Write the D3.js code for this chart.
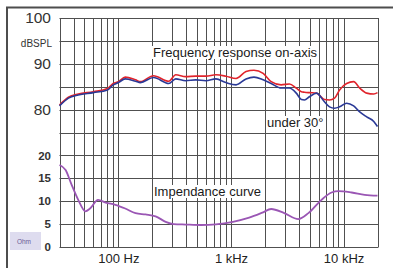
<!DOCTYPE html>
<html>
<head>
<meta charset="utf-8">
<script src="https://cdn.jsdelivr.net/npm/d3@7"></script>
<style>
  body { margin: 0; background: #fff; }
  svg { display: block; font-family: "Liberation Sans", Arial, sans-serif; }
</style>
</head>
<body>
<svg width="393" height="268"></svg>
<script>
// frequencies (Hz) and levels
var spl_freq = [30, 36, 44, 60, 80, 90, 100, 115, 142, 157, 205, 280, 323, 396, 487, 598, 735, 902, 1109, 1360, 1600, 1930, 2275, 2790, 3300, 3800, 4220, 4490, 4970, 5740, 6760, 7500, 8320, 9210, 10640, 12280, 13900, 16040, 18530, 20000];
var on_axis   = [81.0, 82.7, 83.4, 83.9, 84.6, 85.7, 86.1, 87.1, 86.5, 86.1, 87.4, 86.2, 87.6, 87.2, 87.3, 87.3, 87.6, 87.3, 86.8, 88.3, 88.6, 87.9, 86.1, 85.4, 85.6, 84.7, 83.9, 83.8, 83.7, 83.6, 82.2, 82.1, 82.5, 84.3, 85.7, 86.1, 84.7, 83.6, 83.4, 83.7];
var under_30  = [80.8, 82.5, 83.2, 83.7, 84.3, 85.4, 85.9, 86.7, 86.2, 85.9, 87.0, 85.7, 86.7, 86.3, 86.5, 86.3, 86.7, 85.9, 85.4, 86.7, 87.1, 86.5, 85.7, 84.7, 84.7, 83.6, 82.2, 82.1, 82.8, 83.6, 81.7, 80.6, 80.3, 80.6, 81.4, 80.8, 79.5, 78.4, 77.4, 76.3];

var imp_freq = [30, 34, 38, 44, 51, 56, 66, 77, 94, 115, 142, 174, 214, 263, 310, 396, 540, 735, 1040, 1450, 1900, 2275, 2970, 3960, 4870, 6360, 7820, 9020, 11790, 15400, 20000];
var impedance = [17.9, 16.8, 13.9, 10.3, 7.8, 8.4, 10.3, 9.7, 9.2, 8.4, 7.4, 7.1, 6.7, 5.5, 5.0, 4.9, 4.8, 4.95, 5.5, 6.4, 7.5, 8.3, 7.4, 6.1, 7.4, 10.3, 11.9, 12.2, 11.9, 11.4, 11.2];

var db_ticks = [80, 90, 100];
var ohm_ticks = [0, 5, 10, 15, 20];
var hz_ticks = [100, 1000, 10000];
var hz_labels = ["100 Hz", "1 kHz", "10 kHz"];

var svg = d3.select("svg");

// outer frame
svg.append("path")
  .attr("d", "M7,268V7.5H393")
  .attr("fill", "none")
  .attr("stroke", "#4d4d4d")
  .attr("stroke-width", 2);

var pLeft = 59.5, pRight = 377.5, pTop = 18, pBottom = 247;

var x = d3.scaleLog().domain([30, 20000]).range([pLeft, pRight]);
var yDb = d3.scaleLinear().domain([50, 100]).range([pBottom, pTop]);
var yOhm = d3.scaleLinear().domain([0, 50]).range([pBottom, pTop]);

// grid
var grid = svg.append("g").attr("stroke", "#505050").attr("stroke-width", 1);
grid.selectAll(".v")
  .data(x.ticks())
  .enter().append("line")
  .attr("x1", function(d) { return Math.round(x(d)) + 0.5; })
  .attr("x2", function(d) { return Math.round(x(d)) + 0.5; })
  .attr("y1", pTop).attr("y2", pBottom);
grid.selectAll(".h")
  .data(d3.range(50, 101, 5))
  .enter().append("line")
  .attr("x1", pLeft).attr("x2", pRight + 1)
  .attr("y1", function(d) { return Math.round(yDb(d)) + 0.5; })
  .attr("y2", function(d) { return Math.round(yDb(d)) + 0.5; });

// axes (labels only)
var axDb = svg.append("g")
  .attr("transform", "translate(51,0)")
  .call(d3.axisLeft(yDb).tickValues(db_ticks).tickSize(0).tickPadding(0));
axDb.select(".domain").remove();
axDb.selectAll("text")
  .attr("font-size", 15.5).attr("fill", "#333").attr("font-family", "Liberation Sans, Arial, sans-serif");

svg.append("text")
  .attr("x", 52).attr("y", 46.5)
  .attr("text-anchor", "end")
  .attr("font-size", 10).attr("fill", "#333")
  .text("dBSPL");

var axOhm = svg.append("g")
  .attr("transform", "translate(51,0)")
  .call(d3.axisLeft(yOhm).tickValues(ohm_ticks).tickSize(0).tickPadding(0));
axOhm.select(".domain").remove();
axOhm.selectAll("text")
  .attr("font-size", 11.5).attr("font-weight", "bold").attr("fill", "#333")
  .attr("font-family", "Liberation Sans, Arial, sans-serif");

// Ohm box
svg.append("rect")
  .attr("x", 10).attr("y", 232).attr("width", 31).attr("height", 18)
  .attr("fill", "#dedcef");
svg.append("text")
  .attr("x", 24).attr("y", 244)
  .attr("text-anchor", "middle")
  .attr("font-size", 6.5).attr("fill", "#6b5b95")
  .text("Ohm");

var axHz = svg.append("g")
  .attr("transform", "translate(0," + pBottom + ")")
  .call(d3.axisBottom(x).tickValues(hz_ticks).tickSize(0).tickPadding(7)
    .tickFormat(function(d, i) { return hz_labels[i]; }));
axHz.select(".domain").remove();
axHz.selectAll("text")
  .attr("font-size", 13).attr("fill", "#222")
  .attr("font-family", "Liberation Sans, Arial, sans-serif");

// annotations with white backing
function label(txt, x0, yb) {
  var t = svg.append("text")
    .attr("x", x0).attr("y", yb)
    .attr("font-size", 13).attr("fill", "#1a1a1a")
    .text(txt);
  var b = t.node().getBBox();
  svg.insert("rect", function() { return t.node(); })
    .attr("x", b.x - 1).attr("y", b.y + 1)
    .attr("width", b.width + 2).attr("height", b.height - 2)
    .attr("fill", "#fff");
}
label("Frequency response on-axis", 153, 57);
label("under 30°", 267, 127);
label("Impendance curve", 154, 196);

// curves
var lineDb = d3.line()
  .x(function(d) { return x(d[0]); })
  .y(function(d) { return yDb(d[1]); })
  .curve(d3.curveMonotoneX);
var lineOhm = d3.line()
  .x(function(d) { return x(d[0]); })
  .y(function(d) { return yOhm(d[1]); })
  .curve(d3.curveMonotoneX);

svg.append("path")
  .datum(d3.zip(spl_freq, on_axis))
  .attr("fill", "none").attr("stroke", "#e0242c").attr("stroke-width", 1.6)
  .attr("d", lineDb);
svg.append("path")
  .datum(d3.zip(spl_freq, under_30))
  .attr("fill", "none").attr("stroke", "#2a3996").attr("stroke-width", 1.6)
  .attr("d", lineDb);
svg.append("path")
  .datum(d3.zip(imp_freq, impedance))
  .attr("fill", "none").attr("stroke", "#9a56b4").attr("stroke-width", 1.8)
  .attr("d", lineOhm);
</script>
</body>
</html>
